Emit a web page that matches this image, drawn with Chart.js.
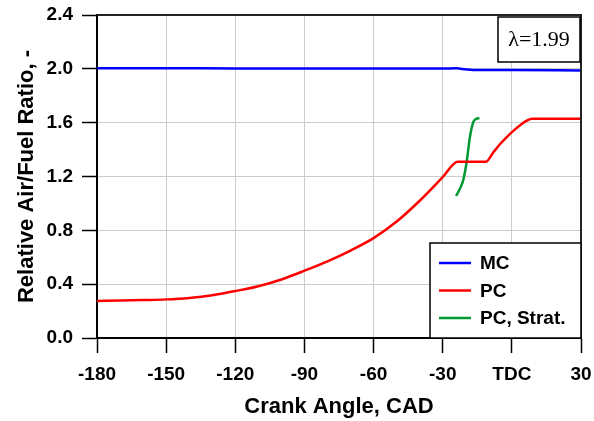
<!DOCTYPE html>
<html>
<head>
<meta charset="utf-8">
<script src="https://cdn.jsdelivr.net/npm/chart.js@4"></script>
<style>
  html, body { margin: 0; padding: 0; background: #fff; }
  #wrap { width: 594px; height: 421px; }
</style>
</head>
<body>
<div id="wrap"><canvas id="chart"></canvas></div>
<script>
// crank angle (CAD) and relative air/fuel ratio
const caMC = [-180, -150, -120, -90, -60, -30, -24, -20, -17, 0, 30];
const lambdaMC = [2.004, 2.004, 2.003, 2.003, 2.002, 2.002, 2.004, 1.996, 1.992, 1.991, 1.987];

const caPC = [-180, -170, -160, -150, -140, -130, -120, -110, -100, -90, -80, -70, -60, -50, -40, -30, -23.5, -11.3, -8, -5, -2, 1, 4, 6.5, 8.7, 30];
const lambdaPC = [0.275, 0.278, 0.282, 0.287, 0.298, 0.318, 0.349, 0.385, 0.435, 0.5, 0.57, 0.65, 0.742, 0.865, 1.02, 1.195, 1.31, 1.31, 1.38, 1.443, 1.497, 1.545, 1.587, 1.615, 1.63, 1.63];

const caStrat = [-24.2, -22.5, -21.1, -19.6, -18.2, -16.7, -15.5, -14.1];
const lambdaStrat = [1.056, 1.11, 1.173, 1.31, 1.494, 1.605, 1.628, 1.635];

const xTicks = [-180, -150, -120, -90, -60, -30, 0, 30];
const yTicks = [0.0, 0.4, 0.8, 1.2, 1.6, 2.0, 2.4];
const seriesNames = ["MC", "PC", "PC, Strat."];
const seriesColors = ["#0000ff", "#ff0000", "#009933"];
const lambdaLabel = "\u03bb=1.99";

const toPoints = (xs, ys) => xs.map((x, i) => ({ x: x, y: ys[i] }));

// legend box + lambda box + frame drawn after the chart
const extras = {
  id: "extras",
  afterDraw(chart) {
    const ctx = chart.ctx;
    const a = chart.chartArea;
    ctx.save();
    // top and right frame
    ctx.strokeStyle = "#222";
    ctx.lineWidth = 2;
    ctx.beginPath();
    ctx.moveTo(a.left, a.top);
    ctx.lineTo(a.right, a.top);
    ctx.lineTo(a.right, a.bottom);
    ctx.stroke();

    // lambda box
    ctx.fillStyle = "#fff";
    ctx.fillRect(498, 17, 82, 45);
    ctx.strokeStyle = "#000";
    ctx.lineWidth = 1.5;
    ctx.strokeRect(498, 17, 82, 45);
    ctx.fillStyle = "#000";
    ctx.font = "22px 'Liberation Serif', 'Times New Roman', serif";
    ctx.textAlign = "center";
    ctx.textBaseline = "middle";
    ctx.fillText(lambdaLabel, 539, 40);

    // legend
    ctx.fillStyle = "#fff";
    ctx.fillRect(430, 243, 151, 95);
    ctx.strokeStyle = "#000";
    ctx.lineWidth = 1.5;
    ctx.strokeRect(430, 243, 151, 95);
    ctx.font = "bold 19px 'Liberation Sans', Arial, sans-serif";
    ctx.textAlign = "left";
    chart.data.datasets.forEach((ds, i) => {
      const y = 263 + i * 27.5;
      ctx.strokeStyle = ds.borderColor;
      ctx.lineWidth = 2.5;
      ctx.beginPath();
      ctx.moveTo(439, y);
      ctx.lineTo(471, y);
      ctx.stroke();
      ctx.fillStyle = "#000";
      ctx.fillText(ds.label, 480, y + 1);
    });
    ctx.restore();
  }
};

const ctx = document.getElementById("chart").getContext("2d");
new Chart(ctx, {
  type: "line",
  data: {
    datasets: [
      { label: seriesNames[0], data: toPoints(caMC, lambdaMC), borderColor: seriesColors[0] },
      { label: seriesNames[1], data: toPoints(caPC, lambdaPC), borderColor: seriesColors[1] },
      { label: seriesNames[2], data: toPoints(caStrat, lambdaStrat), borderColor: seriesColors[2] },
    ],
  },
  options: {
    responsive: true,
    maintainAspectRatio: false,
    animation: false,
    layout: { padding: { left: 0, top: 15, right: 13, bottom: 0 } },
    elements: {
      point: { radius: 0 },
      line: { borderWidth: 2.5, cubicInterpolationMode: "monotone", fill: false },
    },
    plugins: {
      legend: { display: false },
      tooltip: { enabled: false },
    },
    scales: {
      x: {
        type: "linear",
        min: -180,
        max: 30,
        afterBuildTicks: (s) => { s.ticks = xTicks.map((v) => ({ value: v })); },
        afterFit: (s) => { s.height = 83; s.paddingLeft = 0; s.paddingRight = 0; },
        ticks: {
          callback: (v) => (v === 0 ? "TDC" : v),
          color: "#000",
          padding: 10,
          maxRotation: 0,
          font: { family: "'Liberation Sans', Arial, sans-serif", size: 19, weight: "bold" },
        },
        grid: { color: "#cccccc", tickColor: "#000", tickLength: 15, tickWidth: 1.5 },
        border: { color: "#000", width: 2 },
        title: {
          display: true,
          text: "Crank Angle, CAD",
          color: "#000",
          padding: { top: 0, bottom: 1 },
          font: { family: "'Liberation Sans', Arial, sans-serif", size: 22, weight: "bold" },
        },
      },
      y: {
        min: 0,
        max: 2.4,
        afterBuildTicks: (s) => { s.ticks = yTicks.map((v) => ({ value: v })); },
        afterFit: (s) => { s.width = 97; s.paddingTop = 0; s.paddingBottom = 0; },
        ticks: {
          callback: (v) => v.toFixed(1),
          color: "#000",
          padding: 9,
          font: { family: "'Liberation Sans', Arial, sans-serif", size: 19, weight: "bold" },
        },
        grid: { color: "#cccccc", tickColor: "#000", tickLength: 15, tickWidth: 1.5 },
        border: { color: "#000", width: 2 },
        title: {
          display: true,
          text: "Relative Air/Fuel Ratio, -",
          color: "#000",
          padding: { top: 14, bottom: 0 },
          font: { family: "'Liberation Sans', Arial, sans-serif", size: 22, weight: "bold" },
        },
      },
    },
  },
  plugins: [extras],
});
</script>
</body>
</html>
